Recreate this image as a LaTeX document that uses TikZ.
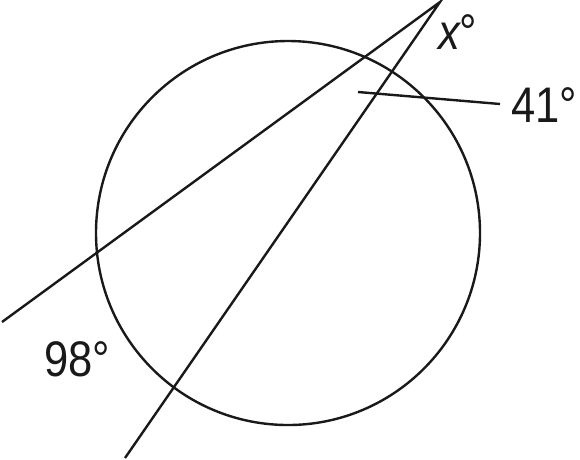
\documentclass[tikz,border=0pt]{standalone}
\usepackage{fontspec}
\setmainfont{Liberation Sans}
\begin{document}
\begin{tikzpicture}[x=1pt,y=-1pt,
  geo/.style={line width=2.4pt, draw=black!90},
  lbl/.style={inner sep=0pt, anchor=base west, font=\fontsize{50}{50}\selectfont, xscale=0.87, text=black!90}]
\useasboundingbox (0,0) rectangle (580,459);
\node[geo, circle, inner sep=0pt, minimum size=384pt] (c) at (288,233) {};
\coordinate (V) at (440,2);
\coordinate (A) at (2,322);
\coordinate (B) at (125,458);
\coordinate (L1) at (358,92);
\coordinate (L2) at (500,104);
\draw[geo] (A) -- (V) -- (B);
\draw[geo] (L1) -- (L2);
\node[lbl] (x) at (438,49) {\itshape x\upshape °};
\node[lbl] (a41) at (511,122) {41°};
\node[lbl] (a98) at (44,376) {98°};
\end{tikzpicture}
\end{document}
